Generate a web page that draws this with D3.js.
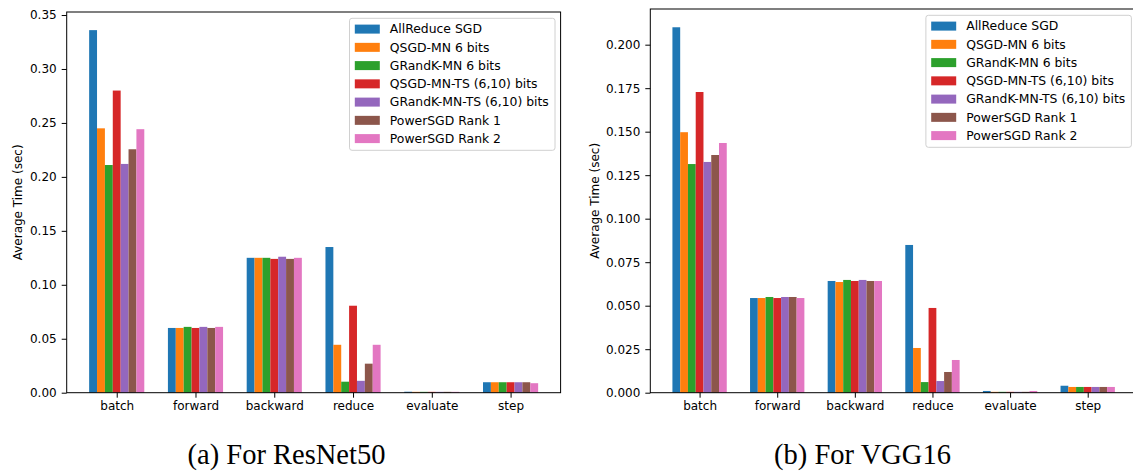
<!DOCTYPE html>
<html>
<head>
<meta charset="utf-8">
<script src="https://cdn.jsdelivr.net/npm/d3@7"></script>
<style>
  body { margin: 0; background: #fff; }
  text { font-family: "DejaVu Sans", sans-serif; }
</style>
</head>
<body>
<div id="chart"></div>
<script>
// categories on the x axis and the compared methods
var categories = ["batch", "forward", "backward", "reduce", "evaluate", "step"];
var methods = ["AllReduce SGD", "QSGD-MN 6 bits", "GRandK-MN 6 bits",
  "QSGD-MN-TS (6,10) bits", "GRandK-MN-TS (6,10) bits",
  "PowerSGD Rank 1", "PowerSGD Rank 2"];
var colors = ["#1f77b4", "#ff7f0e", "#2ca02c", "#d62728", "#9467bd", "#8c564b", "#e377c2"];

// average time (sec), one row per method, one value per category
var resnetTimes = [
  [0.336, 0.060, 0.125, 0.135, 0.0009, 0.0097],
  [0.245, 0.060, 0.125, 0.0444, 0.0008, 0.0097],
  [0.211, 0.061, 0.125, 0.0102, 0.0008, 0.0097],
  [0.280, 0.060, 0.124, 0.0806, 0.0008, 0.0097],
  [0.212, 0.061, 0.126, 0.0110, 0.0008, 0.0097],
  [0.2256, 0.060, 0.124, 0.0269, 0.0008, 0.0097],
  [0.2442, 0.061, 0.125, 0.0444, 0.0008, 0.0088]
];
var vggTimes = [
  [0.2100, 0.0544, 0.0642, 0.0849, 0.0010, 0.0040],
  [0.1497, 0.0544, 0.0636, 0.0257, 0.0005, 0.0033],
  [0.1314, 0.0550, 0.0648, 0.0061, 0.0005, 0.0033],
  [0.1728, 0.0544, 0.0642, 0.0487, 0.0005, 0.0033],
  [0.1326, 0.0550, 0.0648, 0.0067, 0.0005, 0.0033],
  [0.1366, 0.0550, 0.0642, 0.0119, 0.0005, 0.0033],
  [0.1435, 0.0544, 0.0642, 0.0188, 0.0010, 0.0033]
];
var resnetTicks = [0, 0.05, 0.10, 0.15, 0.20, 0.25, 0.30, 0.35];
var vggTicks = [0, 0.025, 0.05, 0.075, 0.10, 0.125, 0.15, 0.175, 0.20];

var W = 1133, H = 472;
var barW = 0.1;

var svg = d3.select("#chart")
  .append("svg")
    .attr("width", W)
    .attr("height", H);

function drawPanel(opt) {
  var x = d3.scaleLinear()
    .domain([-0.635, 5.635])
    .range([opt.left, opt.right]);

  var ymax = d3.max(opt.data, function(r) { return d3.max(r); }) * 1.05;
  var y = d3.scaleLinear()
    .domain([0, ymax])
    .range([opt.bottom, opt.top]);

  var g = svg.append("g");

  // bars
  opt.data.forEach(function(row, m) {
    g.selectAll(null)
      .data(row)
      .enter()
      .append("rect")
        .attr("x", function(d, i) { return x(i + (m - 3) * barW - barW / 2); })
        .attr("y", function(d) { return y(d); })
        .attr("width", x(barW) - x(0))
        .attr("height", function(d) { return y(0) - y(d); })
        .attr("fill", colors[m]);
  });

  // frame
  g.append("rect")
    .attr("x", opt.left)
    .attr("y", opt.top)
    .attr("width", opt.right - opt.left)
    .attr("height", opt.bottom - opt.top)
    .attr("fill", "none")
    .attr("stroke", "#000")
    .attr("stroke-width", 1);

  var xAxis = g.append("g")
    .attr("transform", "translate(0," + opt.bottom + ")")
    .call(d3.axisBottom(x)
      .tickValues(d3.range(categories.length))
      .tickFormat(function(i) { return categories[i]; })
      .tickSize(5).tickPadding(4).tickSizeOuter(0));

  var yAxis = g.append("g")
    .attr("transform", "translate(" + opt.left + ",0)")
    .call(d3.axisLeft(y)
      .tickValues(opt.ticks)
      .tickFormat(d3.format(opt.fmt))
      .tickSize(5).tickPadding(5).tickSizeOuter(0));

  [xAxis, yAxis].forEach(function(a) {
    a.select(".domain").remove();
    a.selectAll("text")
      .attr("fill", "#000")
      .style("font-size", "12px")
      .style("font-family", "DejaVu Sans");
    a.selectAll("line").attr("stroke", "#000");
  });

  // y label
  g.append("text")
    .attr("transform", "translate(" + opt.labelX + "," + ((opt.top + opt.bottom) / 2) + ") rotate(-90)")
    .attr("text-anchor", "middle")
    .attr("dy", "0.35em")
    .style("font-size", "12px")
    .text("Average Time (sec)");

  // legend
  var lx = opt.right - 5.6 - 205.5, ly = opt.top + 6.3;
  var leg = g.append("g").attr("transform", "translate(" + lx + "," + ly + ")");
  leg.append("rect")
    .attr("width", 205.5)
    .attr("height", 132)
    .attr("rx", 2.5)
    .attr("fill", "#fff")
    .attr("fill-opacity", 0.8)
    .attr("stroke", "#d0d0d0");
  methods.forEach(function(name, m) {
    var ry = 10.8 + m * 18.25;
    leg.append("rect")
      .attr("x", 5.3)
      .attr("y", ry - 4.5)
      .attr("width", 25)
      .attr("height", 9)
      .attr("fill", colors[m]);
    leg.append("text")
      .attr("x", 40.3)
      .attr("y", ry)
      .attr("dy", "0.35em")
      .style("font-size", "12.4px")
      .text(name);
  });

  // caption
  svg.append("text")
    .attr("x", opt.capX)
    .attr("y", 464)
    .attr("text-anchor", "middle")
    .style("font-family", "Liberation Serif, serif")
    .style("font-size", "28.5px")
    .text(opt.caption);
}

drawPanel({
  data: resnetTimes, ticks: resnetTicks, fmt: ".2f",
  left: 66.7, right: 560.6, top: 12, bottom: 392.7,
  labelX: 18, capX: 286.5, caption: "(a) For ResNet50"
});

drawPanel({
  data: vggTimes, ticks: vggTicks, fmt: ".3f",
  left: 650.3, right: 1137, top: 9, bottom: 392.7,
  labelX: 595, capX: 862.5, caption: "(b) For VGG16"
});
</script>
</body>
</html>
